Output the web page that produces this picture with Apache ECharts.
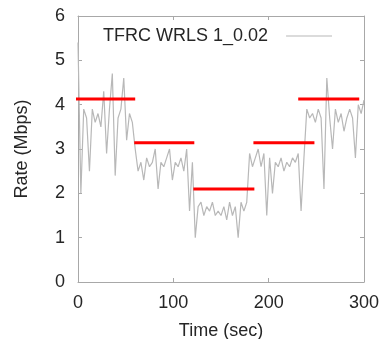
<!DOCTYPE html>
<html>
<head>
<meta charset="utf-8">
<script src="https://cdn.jsdelivr.net/npm/echarts@6/dist/echarts.min.js"></script>
<style>
  html, body { margin: 0; padding: 0; background: #fff; }
  #chart { width: 380px; height: 339px; }
</style>
</head>
<body>
<div id="chart"></div>
<script>
// measured rate (Mbps), one sample every 3 s
const times = []
for (let t = 0; t <= 300; t += 3) times.push(t)
const rates = [
  5.4, 2.0, 3.9, 3.7, 2.5, 3.9, 3.6, 3.8, 3.5, 4.3, 2.9, 3.9, 4.7, 2.4, 3.7, 3.9, 4.6, 3.2, 3.8, 3.6,
  3.0, 2.5, 2.7, 2.3, 2.8, 2.6, 2.7, 3.0, 2.1, 2.7, 2.6, 2.8, 3.0, 2.3, 2.7, 2.6, 2.8, 2.5, 3.0, 1.6,
  2.7, 1.0, 1.7, 1.8, 1.5, 1.7, 1.6, 1.8, 1.5, 1.6, 1.5, 1.7, 1.4, 1.8, 1.5, 1.7, 1.0, 1.8, 1.6, 1.8,
  2.9, 2.6, 2.8, 3.0, 2.6, 2.9, 1.5, 2.8, 2.0, 2.7, 2.6, 2.8, 2.5, 2.7, 2.6, 2.8, 2.7, 2.9, 1.6, 2.8,
  3.9, 3.7, 3.8, 3.6, 3.9, 3.7, 2.1, 4.6, 3.7, 3.0, 3.9, 3.6, 3.8, 3.4, 3.7, 3.9, 3.7, 2.8, 4.0, 3.8, 4.1
]

// available bandwidth steps (red)
const levelStart = [-4, 59, 121, 184, 231]
const levelEnd = [60, 122, 185, 248, 295]
const levelValue = [4.13, 3.14, 2.1, 3.14, 4.13]

const xTicks = { min: 0, max: 300, interval: 100 }
const yTicks = { min: 0, max: 6, interval: 1 }

const seriesName = 'TFRC WRLS 1_0.02'

const rateData = times.map((t, i) => [t, rates[i]])
const levelData = []
levelStart.forEach((s, i) => {
  levelData.push([s, levelValue[i]], [levelEnd[i], levelValue[i]], ['-', '-'])
})

const font = 'Liberation Sans, Arial, sans-serif'
const ink = '#262626'
const frame = '#a8a8a8'
const axisBase = {
  axisLine: { show: true, onZero: false, lineStyle: { color: frame, width: 1 } },
  axisTick: { show: true, inside: true, length: 4, lineStyle: { color: frame } },
  splitLine: { show: false }
}

const chart = echarts.init(document.getElementById('chart'))
chart.setOption({
  animation: false,
  textStyle: { fontFamily: font },
  grid: { left: 78, right: 16, top: 16, bottom: 57, outerBoundsMode: 'none', containLabel: false },
  legend: {
    data: [{ name: seriesName, icon: 'rect' }],
    left: 98,
    top: 22,
    align: 'right',
    itemWidth: 46,
    itemHeight: 1,
    itemStyle: { color: '#b8b8b8' },
    textStyle: { fontFamily: font, fontSize: 18, color: ink, padding: [0, 13, 0, 0] }
  },
  xAxis: [
    Object.assign({
      type: 'value', position: 'bottom',
      name: 'Time (sec)', nameLocation: 'middle', nameGap: 40,
      nameTextStyle: { fontFamily: font, fontSize: 18, color: ink },
      axisLabel: { fontFamily: font, fontSize: 18, color: ink, margin: 12 }
    }, xTicks, axisBase),
    Object.assign({ type: 'value', position: 'top', axisLabel: { show: false } }, xTicks, axisBase)
  ],
  yAxis: [
    Object.assign({
      type: 'value', position: 'left',
      name: 'Rate (Mbps)', nameLocation: 'middle', nameGap: 47,
      nameTextStyle: { fontFamily: font, fontSize: 18, color: ink },
      axisLabel: { fontFamily: font, fontSize: 18, color: ink, margin: 13 }
    }, yTicks, axisBase),
    Object.assign({ type: 'value', position: 'right', axisLabel: { show: false } }, yTicks, axisBase)
  ],
  series: [
    {
      name: seriesName,
      type: 'line',
      data: rateData,
      symbol: 'none',
      lineStyle: { color: '#b8b8b8', width: 1.2 },
      itemStyle: { color: '#b8b8b8' }
    },
    {
      name: 'level',
      type: 'line',
      data: levelData,
      symbol: 'none',
      clip: false,
      connectNulls: false,
      lineStyle: { color: '#ff0000', width: 3 },
      z: 5
    }
  ]
})
</script>
</body>
</html>
